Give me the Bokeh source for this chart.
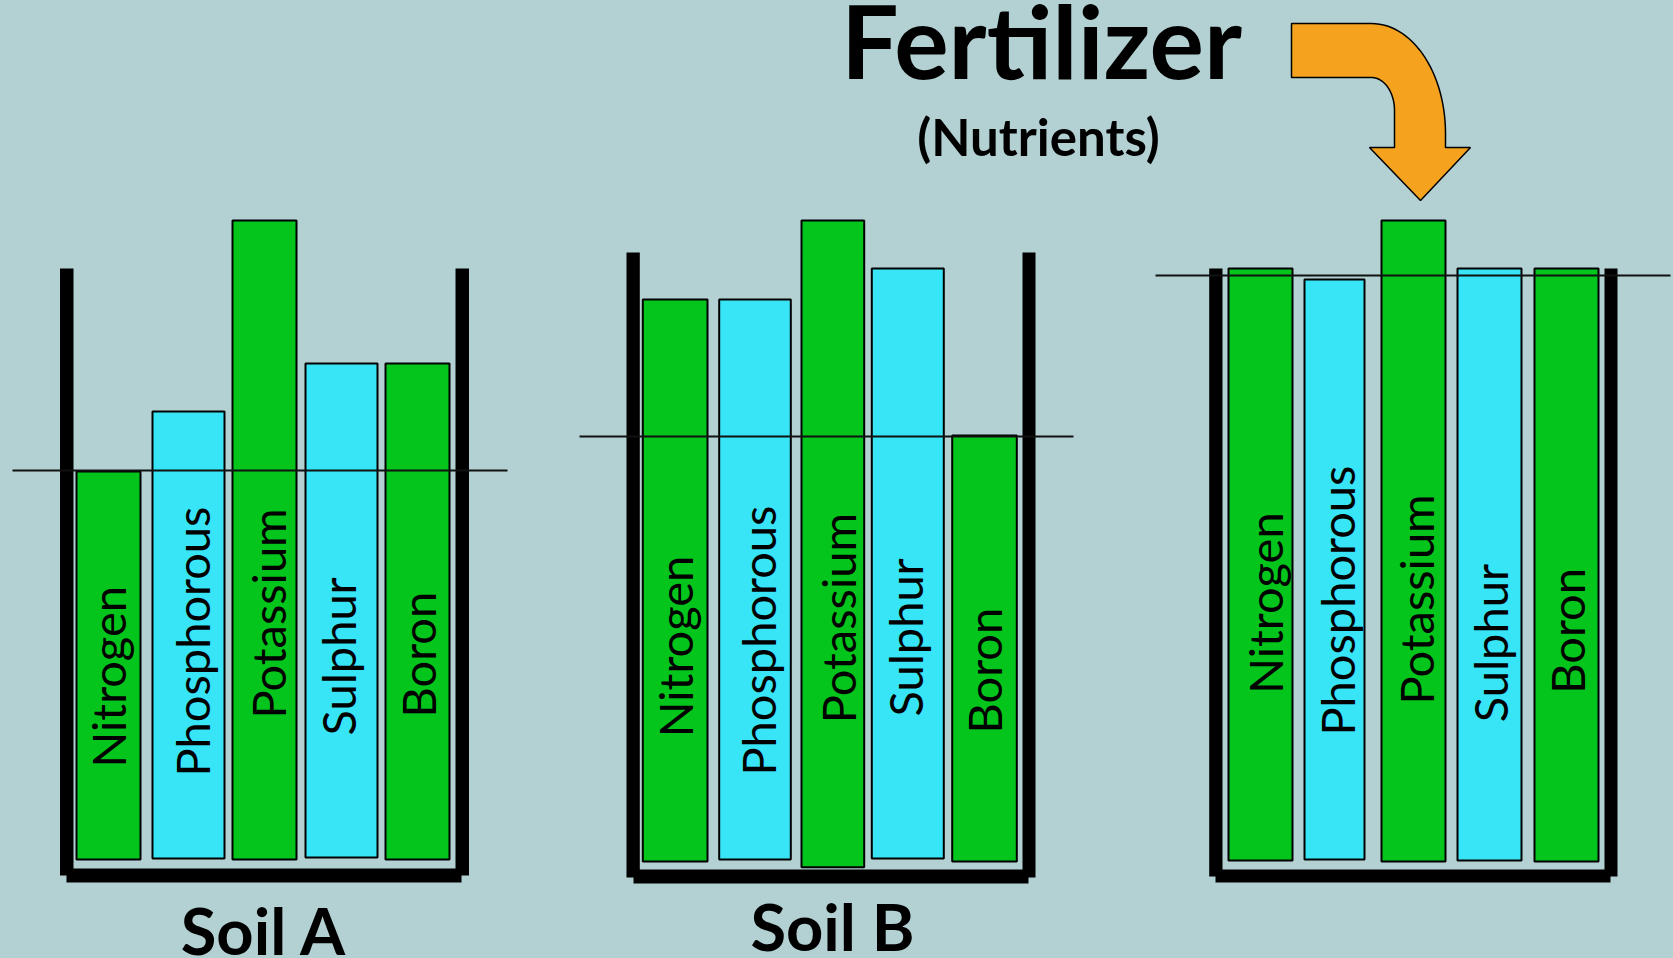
import numpy as np
from bokeh.plotting import figure
from bokeh.models import Range1d, ColumnDataSource
from bokeh.core.properties import value
from bokeh.embed import file_html
from bokeh.resources import INLINE

# ---------------- data ----------------
nutrients = ["Nitrogen", "Phosphorous", "Potassium", "Sulphur", "Boron"]
soil_a = [389, 449, 640, 497, 497]          # nutrient level, Soil A
soil_b = [561, 561, 640, 592, 425]          # nutrient level, Soil B
soil_c = [592, 581, 640, 592, 592]          # after fertilizer
limits = [390, 424, 585]                    # level that limits yield
soil_names = ["Soil A", "Soil B", ""]
title_main = "Fertilizer"
title_sub = "(Nutrients)"

# ---------------- style / layout ----------------
BG = "#B3D1D2"
GREEN = "#03C51B"
CYAN = "#37E5F7"
ORANGE = "#F5A21F"
bar_colors = [GREEN, CYAN, GREEN, CYAN, GREEN]

W, H = 1673, 958
OY = 860  # screen row of barrel floor -> data 0
K = 0.4   # empirical offset of the rendered baseline below the anchor (fraction of font size)

LABEL_PX = 47
NAME_PX = 65
MAIN_PX = 102
SUB_PX = 51


def sy(v):
    return OY - np.asarray(v, dtype=float)


barrels = [
    dict(lw=(59.5, 73), rw=(455, 468.5), wt=268, wb=875, fx=(66, 461), fy=(868, 882),
         bars=[(76, 140), (152, 224), (232, 296), (305, 377), (385, 449)],
         bot=[1, 2, 1, 3, 1], line=(12, 507),
         lx=[126.7, 210, 286.7, 356.7, 436], ly=[767, 776, 718, 735, 717], name_x=263.5, name_y=955),
    dict(lw=(626, 639.3), rw=(1022, 1035), wt=252, wb=877, fx=(633, 1028), fy=(869, 883),
         bars=[(642.3, 707), (718.7, 790.3), (801, 863.7), (871.3, 943.3), (951.7, 1016.3)],
         bot=[-1, 1, -6.7, 2, -1], line=(579, 1073),
         lx=[693.3, 776.7, 856.7, 923, 1002.7], ly=[736.7, 775, 722.7, 716, 733], name_x=832, name_y=951),
    dict(lw=(1208.7, 1222), rw=(1604, 1617), wt=268, wb=876, fx=(1215, 1610), fy=(869, 882),
         bars=[(1228, 1292), (1304, 1364), (1381, 1445), (1457, 1521), (1534, 1598)],
         bot=[0, 1, -1, 0, -1], line=(1155, 1670),
         lx=[1283.3, 1355, 1434, 1508.3, 1585], ly=[693.3, 735, 704, 721.7, 693.3], name_x=0, name_y=955),
]
levels = [soil_a, soil_b, soil_c]

p = figure(width=W, height=H, output_backend="svg", toolbar_location=None,
           x_range=Range1d(0, W), y_range=Range1d(OY - H, OY),
           min_border=0, background_fill_color=BG, border_fill_color=BG)
p.outline_line_color = None
p.axis.visible = False
p.grid.visible = False

for b, vals, lim, name in zip(barrels, levels, limits, soil_names):
    # barrel walls
    p.quad(left=[b["lw"][0], b["rw"][0]], right=[b["lw"][1], b["rw"][1]],
           top=sy([b["wt"], b["wt"]]), bottom=sy([b["wb"], b["wb"]]),
           fill_color="black", line_color=None)
    p.quad(left=[b["fx"][0]], right=[b["fx"][1]], top=sy([b["fy"][0]]), bottom=sy([b["fy"][1]]),
           fill_color="black", line_color=None)
    # nutrient bars
    src = ColumnDataSource(dict(
        left=[x[0] for x in b["bars"]], right=[x[1] for x in b["bars"]],
        top=vals, bottom=b["bot"], color=bar_colors))
    p.quad(left="left", right="right", top="top", bottom="bottom", source=src,
           fill_color="color", line_color="black", line_width=2)
    # limiting level line
    p.segment(x0=[b["line"][0]], x1=[b["line"][1]], y0=[lim], y1=[lim],
              line_color="#111111", line_width=2)
    # bar labels (rotated, reading upward)
    p.text(x=np.array(b["lx"]) - K * LABEL_PX, y=sy(b["ly"]), text=nutrients, angle=np.pi / 2,
           text_align="left", text_baseline="alphabetic",
           text_font=value("Lato"), text_font_size=f"{LABEL_PX}px", text_color="black")
    if name:
        p.text(x=[b["name_x"]], y=sy([b["name_y"] - K * NAME_PX]), text=[name], text_align="center",
               text_baseline="alphabetic", text_font=value("Lato"), text_font_style="bold",
               text_font_size=f"{NAME_PX}px", text_color="black")

# titles
p.text(x=[1041], y=sy([80 - K * MAIN_PX]), text=[title_main], text_align="center",
       text_baseline="alphabetic", text_font=value("Lato"), text_font_style="bold",
       text_font_size=f"{MAIN_PX}px", text_color="black")
p.text(x=[1038], y=sy([156 - K * SUB_PX]), text=[title_sub], text_align="center",
       text_baseline="alphabetic", text_font=value("Lato"), text_font_style="bold",
       text_font_size=f"{SUB_PX}px", text_color="black")

# curved arrow (screen coords -> data)
t = np.linspace(0, np.pi / 2, 30)
outer_x = 1371 + 74 * np.sin(t)
outer_y = 133 - 110 * np.cos(t)
inner_t = t[::-1]
inner_x = 1371 + 23 * np.sin(inner_t)
inner_y = 110 - 33 * np.cos(inner_t)
ax = np.concatenate([[1291], outer_x, [1445, 1470, 1420, 1369, 1394], inner_x, [1291]])
ay = np.concatenate([[23], outer_y, [147, 147, 200, 147, 147], inner_y, [77]])
p.patch(x=ax, y=sy(ay), fill_color=ORANGE, line_color="black", line_width=1.5)

tpl = '{% block preamble %}<style>html, body { background: ' + BG + '; }</style>{% endblock %}'
open("out.html", "w").write(file_html(p, INLINE, template=tpl))
